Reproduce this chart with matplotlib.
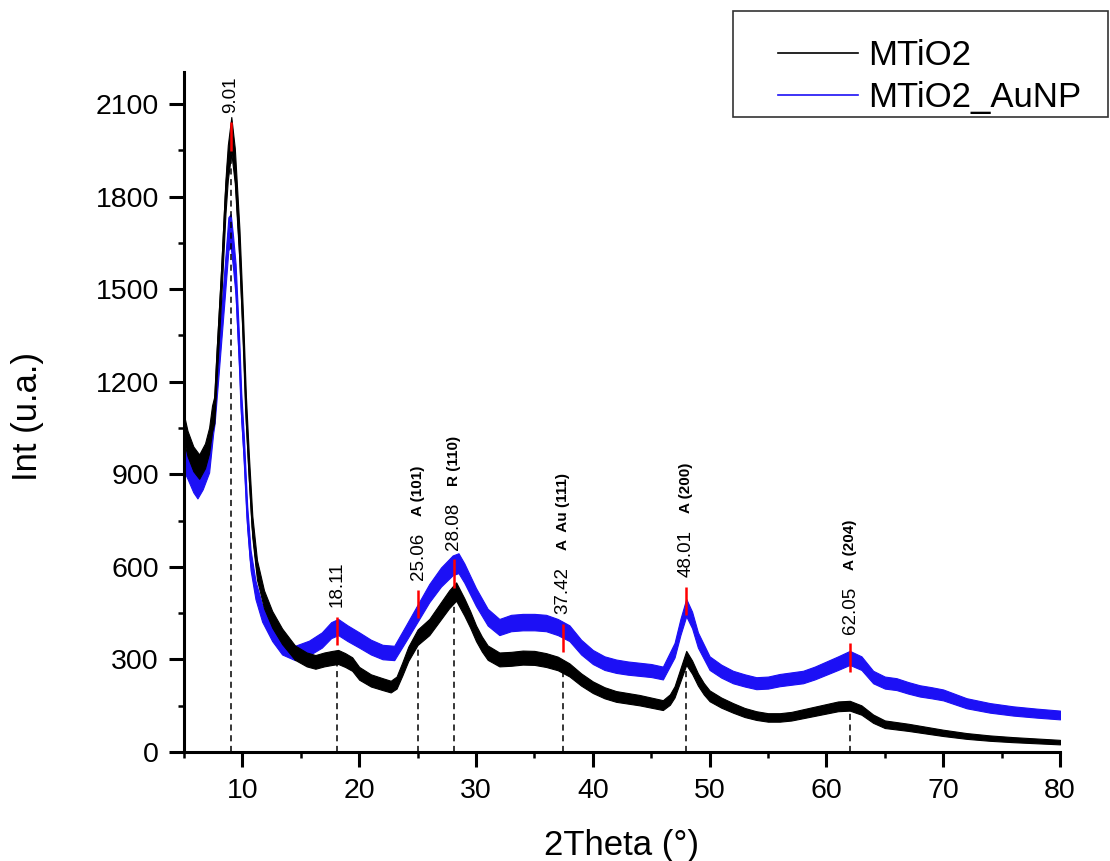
import numpy as np
import matplotlib.pyplot as plt
from matplotlib.patches import Rectangle
from matplotlib.ticker import MultipleLocator

plt.rcParams['font.family'] = ['Liberation Sans', 'DejaVu Sans']

# MTiO2 diffractogram (2theta in degrees, intensity in u.a.)
tt_black = [5.0, 5.3, 5.8, 6.3, 6.8, 7.15, 7.4, 7.6, 7.8, 8.2, 8.55, 8.75, 9.05, 9.35,
            9.75, 10.05, 10.3, 10.55, 10.85, 11.25, 11.85, 12.55, 13.4, 14.5, 15.5,
            16.25, 17.0, 17.7, 18.2, 18.8, 19.4, 20.0, 21.0, 22.0, 22.7, 23.2, 23.7,
            24.2, 25.0, 26.0, 27.0, 27.7, 28.3, 29.0, 29.5, 30.0, 30.5, 31.0, 32.0,
            33.0, 34.0, 35.0, 36.0, 37.0, 38.0, 39.0, 40.0, 41.0, 42.0, 43.0, 44.0,
            45.0, 46.0, 46.6, 47.0, 47.5, 48.0, 48.5, 49.0, 49.5, 50.0, 51.0, 52.0,
            53.0, 54.0, 55.0, 56.0, 57.0, 58.0, 59.0, 60.0, 61.0, 62.0, 63.0, 64.0,
            65.0, 66.0, 67.0, 68.0, 69.0, 70.0, 72.0, 74.0, 76.0, 78.0, 80.0]
int_black = [1050, 1000, 950, 925, 960, 1010, 1080, 1110, 1260, 1530, 1800, 1910, 2000, 1900,
             1640, 1370, 1110, 925, 730, 590, 495, 430, 375, 322, 300,
             292, 300, 305, 308, 298, 285, 255, 232, 220, 212, 225, 270,
             318, 372, 405, 458, 495, 520, 470, 430, 385, 350, 322, 300,
             302, 306, 305, 298, 287, 266, 235, 210, 192, 180, 174, 168,
             160, 152, 170, 195, 250, 305, 275, 235, 205, 182, 160, 143,
             128, 118, 112, 112, 116, 124, 132, 140, 148, 150, 136, 108,
             90, 85, 80, 74, 68, 62, 52, 45, 40, 36, 32]

# MTiO2_AuNP diffractogram
tt_blue = [5.0, 5.3, 5.8, 6.15, 6.6, 7.15, 7.5, 7.62, 7.94, 8.5, 8.8, 9.0, 9.2, 9.42,
           9.76, 9.9, 10.13, 10.41, 10.7, 11.12, 11.69, 12.55, 13.4, 14.5, 15.7,
           16.8, 17.6, 18.2, 19.0, 20.0, 21.0, 22.0, 23.0, 24.0, 25.0, 26.0, 27.0,
           28.0, 28.5, 29.0, 30.0, 31.0, 32.0, 33.0, 34.0, 35.0, 36.0, 37.0, 38.0,
           39.0, 40.0, 41.0, 42.0, 43.0, 44.0, 45.0, 46.0, 47.0, 47.5, 48.0, 48.5,
           49.0, 50.0, 51.0, 52.0, 53.0, 54.0, 55.0, 56.0, 57.0, 58.0, 59.0, 60.0,
           61.0, 62.0, 63.0, 64.0, 65.0, 66.0, 67.0, 68.0, 69.0, 70.0, 72.0, 74.0,
           76.0, 78.0, 80.0]
int_blue = [950, 925, 880, 860, 890, 946, 1076, 1108, 1260, 1530, 1680, 1690, 1620, 1530,
            1260, 1120, 979, 762, 622, 525, 450, 385, 340, 321, 337,
            363, 395, 405, 385, 363, 340, 324, 321, 385, 450, 515, 567,
            605, 612, 580, 502, 437, 405, 418, 421, 421, 418, 405, 385,
            340, 308, 288, 278, 272, 268, 264, 256, 330, 405, 468, 428,
            363, 288, 262, 243, 232, 223, 225, 233, 238, 243, 256, 272,
            288, 305, 288, 243, 225, 220, 208, 198, 192, 185, 158, 143,
            133, 126, 120]

# indexed reflections
peaks = [9.01, 18.11, 25.06, 28.08, 37.42, 48.01, 62.05]
peak_marks = [1995, 392, 480, 578, 370, 490, 306]
phases = ['', '', 'A (101)', 'R (110)', 'A  Au (111)', 'A (200)', 'A (204)']

NOISE_K = 1.3
MARK_HALF = 46

fig = plt.figure(figsize=(11.1, 8.61), dpi=100)
ax = fig.add_axes([184 / 1110, 109 / 861, 876 / 1110, 680 / 861])

for tt, inten, col, lab, z in [(tt_blue, int_blue, '#1c10f5', 'MTiO2_AuNP', 2),
                               (tt_black, int_black, 'black', 'MTiO2', 3)]:
    tt = np.array(tt)
    inten = np.array(inten, dtype=float)
    w = NOISE_K * np.sqrt(inten)
    ax.fill_between(tt, inten - w, inten + w, color=col, lw=0.8, zorder=z)
    ax.plot(tt, inten, color=col, lw=1.2, label=lab, zorder=z)

peaks = np.array(peaks)
peak_marks = np.array(peak_marks)
tops = np.interp(peaks, tt_black, int_black)
ax.vlines(peaks, 0, tops, colors='black', linestyles=(0, (4, 3)), lw=1.1, zorder=4)
ax.vlines(peaks, peak_marks - MARK_HALF, peak_marks + MARK_HALF, colors='red', lw=1.8, zorder=5)

for p, m, ph in zip(peaks, peak_marks, phases):
    ax.annotate(f'{p:.2f}', (p, m + MARK_HALF), xytext=(0, 7), textcoords='offset points',
                rotation=90, ha='center', va='bottom', fontsize=13.5)
    if ph:
        ax.annotate(ph, (p, m + MARK_HALF), xytext=(0, 53), textcoords='offset points',
                    rotation=90, ha='center', va='bottom', fontsize=11, fontweight='bold')

ax.set_xlim(5, 80)
ax.set_ylim(0, 2204)
ax.xaxis.set_major_locator(MultipleLocator(10))
ax.xaxis.set_minor_locator(MultipleLocator(5))
ax.yaxis.set_major_locator(MultipleLocator(300))
ax.yaxis.set_minor_locator(MultipleLocator(150))

for s in ['top', 'right']:
    ax.spines[s].set_visible(False)
for s in ['left', 'bottom']:
    ax.spines[s].set_linewidth(2.2)

ax.tick_params(which='major', direction='out', length=11, width=2.2, labelsize=20.5)
ax.tick_params(axis='x', which='major', pad=8)
ax.tick_params(axis='y', which='major', pad=7)
ax.tick_params(which='minor', direction='out', length=4, width=1.8)

ax.set_xlabel('2Theta (°)', fontsize=25)
ax.set_ylabel('Int (u.a.)', fontsize=25)
ax.xaxis.set_label_coords(0.499, -0.137)
ax.yaxis.set_label_coords(-0.179, 0.494)
ax.xaxis.label.set_va('center')
ax.yaxis.label.set_va('center')

# legend box sits above the plot, top right of the figure
handles, labels = ax.get_legend_handles_labels()
order = [labels.index('MTiO2'), labels.index('MTiO2_AuNP')]
leg = fig.legend([handles[i] for i in order], [labels[i] for i in order],
                 loc='center left', bbox_to_anchor=(778 / 1110, 1 - 76.5 / 861),
                 fontsize=25, frameon=False, borderpad=0, borderaxespad=0,
                 handlelength=2.3, handletextpad=0.3, labelspacing=0.25)
fig.add_artist(Rectangle((733 / 1110, 1 - 117 / 861), 375 / 1110, 106 / 861,
                         transform=fig.transFigure, fill=False,
                         edgecolor='#333333', lw=1.2))

fig.savefig('out.png', dpi=100)
